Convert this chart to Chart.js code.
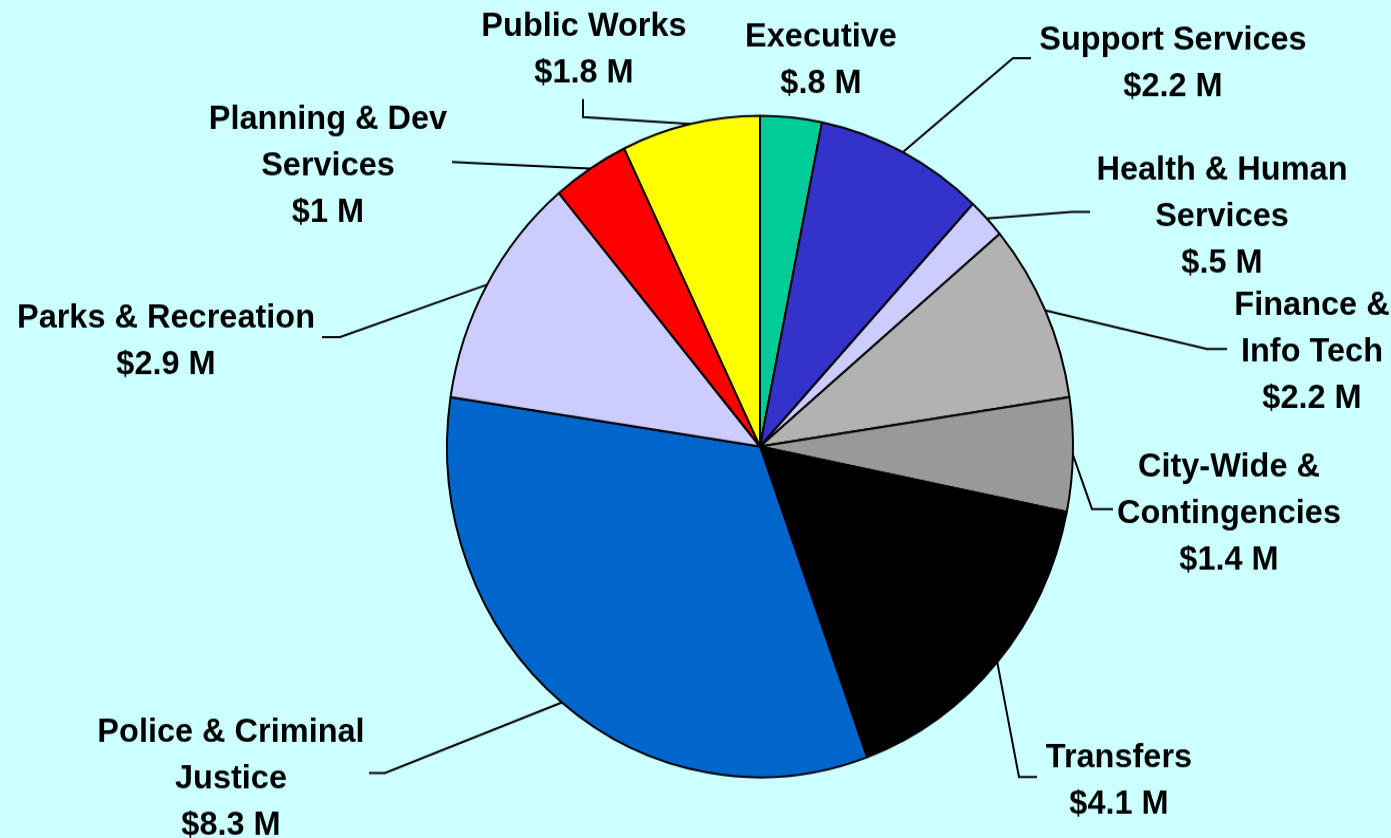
<!DOCTYPE html>
<html>
<head>
<meta charset="utf-8">
<script src="https://cdn.jsdelivr.net/npm/chart.js@4.4.1/dist/chart.umd.min.js"></script>
<style>
  html, body { margin: 0; padding: 0; background: #CCFFFF; overflow: hidden; }
  #wrap {
    position: absolute; left: 0; top: 0;
    width: 1391px; height: 793px;
    /* the original pie is a little taller than wide */
    transform: scaleY(1.056747); transform-origin: 0 0;
  }
</style>
</head>
<body>
<div id="wrap"><canvas id="mycanvas"></canvas></div>
<script>
// budget by department, $ millions, clockwise from 12 o'clock
const departments = [
  ['Executive'],
  ['Support Services'],
  ['Health & Human', 'Services'],
  ['Finance &', 'Info Tech'],
  ['City-Wide &', 'Contingencies'],
  ['Transfers'],
  ['Police & Criminal', 'Justice'],
  ['Parks & Recreation'],
  ['Planning & Dev', 'Services'],
  ['Public Works']
];
const amounts = [0.8, 2.2, 0.5, 2.2, 1.4, 4.1, 8.3, 2.9, 1.0, 1.8];
const sliceColors = ['#00CC99', '#3333CC', '#CCCCFF', '#B2B2B2', '#999999',
                     '#000000', '#0066CC', '#CCCCFF', '#FF0000', '#FFFF00'];

// label placement in page pixels: text centre x, first baseline y,
// leader elbow and leader end (null = no leader)
const labelPos = [
  {x: 821,  y: 47,  elbow: null,       end: null},
  {x: 1173, y: 50,  elbow: [1013, 58],  end: [1031, 58]},
  {x: 1222, y: 180, elbow: [1072, 212], end: [1090, 212]},
  {x: 1312, y: 315, elbow: [1207, 349], end: [1227, 349]},
  {x: 1229, y: 477, elbow: [1092, 509], end: [1113, 509]},
  {x: 1119, y: 767, elbow: [1019, 777], end: [1037, 777]},
  {x: 231,  y: 742, elbow: [385, 773],  end: [369, 773]},
  {x: 166,  y: 328, elbow: [340, 337],  end: [322, 337]},
  {x: 328,  y: 129, elbow: [472, 163],  end: [452, 162]},
  {x: 584,  y: 36,  elbow: [583, 117],  end: [583, 99]}
];

const SY = 1.056747;      // same as the css scaleY
const LINE_H = 46.5;

function money(v) {
  return '$' + String(v).replace(/^0\./, '.') + ' M';
}

const labelPlugin = {
  id: 'deptLabels',
  afterDraw(chart) {
    const ctx = chart.ctx;
    const meta = chart.getDatasetMeta(0);
    ctx.save();
    ctx.strokeStyle = '#000';
    ctx.lineWidth = 2;
    meta.data.forEach((arc, i) => {
      const p = labelPos[i];
      if (!p.elbow) return;
      const a = arc.getProps(['x', 'y', 'startAngle', 'endAngle', 'outerRadius'], true);
      const mid = (a.startAngle + a.endAngle) / 2;
      ctx.beginPath();
      ctx.moveTo(a.x + a.outerRadius * Math.cos(mid), a.y + a.outerRadius * Math.sin(mid));
      ctx.lineTo(p.elbow[0], p.elbow[1] / SY);
      ctx.lineTo(p.end[0], p.end[1] / SY);
      ctx.stroke();
    });
    ctx.fillStyle = '#000';
    ctx.font = 'bold 32.5px "Liberation Sans", Arial, sans-serif';
    ctx.textAlign = 'center';
    ctx.textBaseline = 'alphabetic';
    departments.forEach((name, i) => {
      const p = labelPos[i];
      const lines = name.concat([money(amounts[i])]);
      lines.forEach((t, k) => {
        ctx.save();
        ctx.translate(p.x, (p.y + k * LINE_H) / SY);
        ctx.scale(1, 1 / SY);
        ctx.fillText(t, 0, 0);
        ctx.restore();
      });
    });
    ctx.restore();
  }
};

const ctx_live = document.getElementById('mycanvas');

const data = {
  labels: departments.map(d => d.join(' ')),
  datasets: [{
    data: amounts,
    backgroundColor: sliceColors,
    borderColor: '#000000',
    borderWidth: 2,
    radius: 313
  }]
};

var config = {
  type: 'pie',
  data: data,
  options: {
    responsive: true,
    maintainAspectRatio: false,
    animation: false,
    layout: {
      padding: {top: 109, bottom: 57, left: 380, right: 251}
    },
    plugins: {
      legend: { display: false },
      tooltip: { enabled: false }
    }
  },
  plugins: [labelPlugin]
};

var myChart = new Chart(ctx_live, config);
</script>
</body>
</html>
